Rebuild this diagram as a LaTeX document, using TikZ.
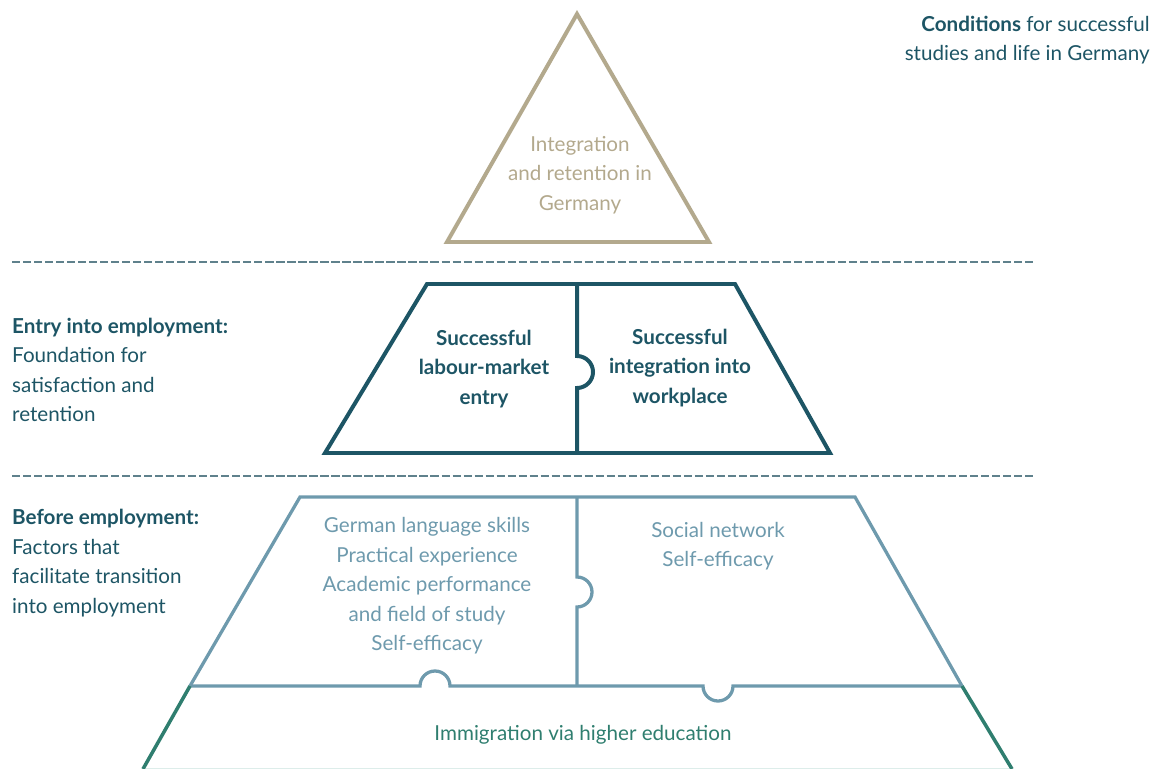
\documentclass[tikz,border=0pt]{standalone}
\usepackage{fontspec}
\setmainfont{Lato}
\usetikzlibrary{positioning}

\definecolor{sand}{HTML}{B3A98D}
\definecolor{petrol}{HTML}{1D5565}
\definecolor{steel}{HTML}{6E9AAD}
\definecolor{sea}{HTML}{2F7E6F}
\definecolor{dashc}{HTML}{5F818C}
\definecolor{foam}{HTML}{DDEDEA}

\begin{document}
\begin{tikzpicture}[x=0.03cm, y=-0.03cm]
\tikzstyle{every node}=[inner sep=0pt, font=\fontsize{17.6}{25.2}\selectfont]
\tikzstyle{txt}=[align=center]
\tikzstyle{side}=[align=left, anchor=west, text=petrol]
\tikzstyle{sep}=[dashc, line width=2pt, dash pattern=on 7pt off 2.4pt]
\useasboundingbox (0,0) rectangle (1153,769);

% top level
\coordinate (t1) at (577,14);
\coordinate (t2) at (709,242);
\coordinate (t3) at (447,242);
\draw[sand, line width=3.4pt, line join=miter] (t1) -- (t2) -- (t3) -- cycle;
\node (top) [txt, text=sand] at (580,175) {Integration\\and retention in\\Germany};
\node (cond) [align=right, anchor=east, text=petrol] at (1150,40)
  {\textbf{Conditions} for successful\\studies and life in Germany};

\coordinate (d1a) at (12,262);
\coordinate (d1b) at (1035,262);
\draw[sep] (d1a) -- (d1b);

% middle level
\coordinate (m1) at (427,284);
\coordinate (m2) at (735,284);
\coordinate (m3) at (830,453);
\coordinate (m4) at (325,453);
\draw[petrol, line width=3.4pt, line join=miter] (m1) -- (m2) -- (m3) -- (m4) -- cycle;
\draw[petrol, line width=3.4pt] (577,284) -- (577,356)
  arc[start angle=-90, end angle=90, radius=16] -- (577,453);
\node (ml) [txt, text=petrol, font=\fontsize{17.6}{25.2}\selectfont\bfseries] at (484,369)
  {Successful\\labour-market\\entry};
\node (mr) [txt, text=petrol, font=\fontsize{17.6}{25.2}\selectfont\bfseries] at (680,368)
  {Successful\\integration into\\workplace};
\node (entry) [side] at (12,370)
  {\textbf{Entry into employment:}\\Foundation for\\satisfaction and\\retention};

\coordinate (d2a) at (12,476);
\coordinate (d2b) at (1035,476);
\draw[sep] (d2a) -- (d2b);

% bottom level
\coordinate (b1) at (300,497);
\coordinate (b2) at (855,497);
\coordinate (b3) at (962,686);
\coordinate (b4) at (190,686);
\draw[steel, line width=2.8pt, line join=miter] (b4) -- (b1) -- (b2) -- (b3);
\draw[steel, line width=2.8pt] (b4) -- (420,686)
  arc[start angle=180, end angle=360, radius=15] -- (703,686)
  arc[start angle=180, end angle=0, radius=15] -- (b3);
\draw[steel, line width=2.8pt] (577,497) -- (577,577)
  arc[start angle=-90, end angle=90, radius=15] -- (577,686);
\node (bl) [txt, text=steel] at (427,586)
  {German language skills\\Practical experience\\Academic performance\\and field of study\\Self-efficacy};
\node (br) [txt, text=steel] at (718,546) {Social network\\Self-efficacy};
\node (before) [side] at (12,563)
  {\textbf{Before employment:}\\Factors that\\facilitate transition\\into employment};

% base
\coordinate (f1) at (143,769);
\coordinate (f2) at (1012,769);
\draw[foam, line width=1.2pt] (f1) -- (f2);
\draw[sea, line width=3pt] (b4) -- (f1);
\draw[sea, line width=3pt] (b3) -- (f2);
\node (base) [txt, text=sea] at (583,735) {Immigration via higher education};
\end{tikzpicture}
\end{document}
